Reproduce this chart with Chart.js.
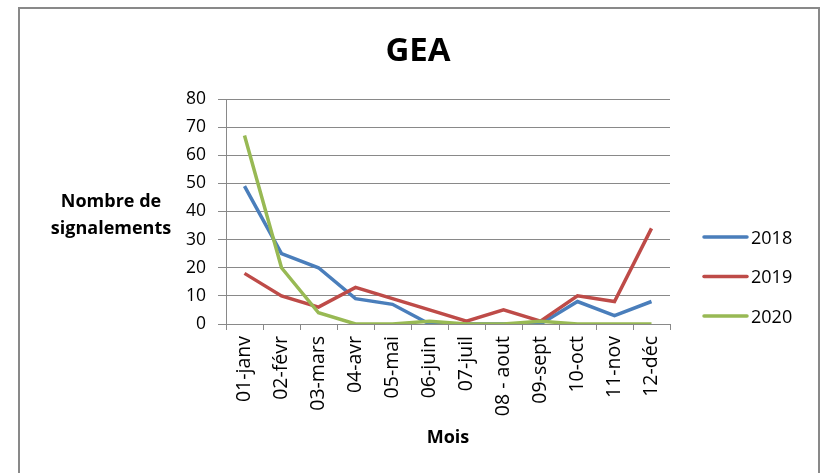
<!DOCTYPE html>
<html lang="fr">
<head>
  <meta charset="UTF-8">
  <title>GEA</title>
  <script src="https://cdn.jsdelivr.net/npm/chart.js"></script>
  <style>
    html, body { margin: 0; padding: 0; background: #fff; overflow: hidden; }
    .frame { position: absolute; left: 18px; top: 7px; width: 798px; height: 520px;
             border: 2px solid #898989; border-bottom: none; }
    .chart-container { position: absolute; left: 0; top: 0; width: 821px; height: 473px; }
  </style>
</head>
<body>
<div class="frame"></div>
<div class="chart-container"><canvas id="chart" width="821" height="473"></canvas></div>
<script>
  const chartTitle = 'GEA';
  const yTitle = ['Nombre de', 'signalements'];
  const xTitle = 'Mois';
  const months = ['01-janv', '02-févr', '03-mars', '04-avr', '05-mai', '06-juin',
                  '07-juil', '08 - aout', '09-sept', '10-oct', '11-nov', '12-déc'];
  const years = ['2018', '2019', '2020'];
  const values2018 = [49, 25, 20, 9, 7, 0, 0, 0, 0, 8, 3, 8];
  const values2019 = [18, 10, 6, 13, 9, 5, 1, 5, 1, 10, 8, 34];
  const values2020 = [67, 20, 4, 0, 0, 1, 0, 0, 1, 0, 0, 0];
  const colors = ['#4A7EBB', '#BE4B48', '#98B954'];

  const font = '"Open Sans", "Noto Sans", sans-serif';

  // title, horizontal y title and legend, drawn by hand like Excel does
  const decor = {
    id: 'decor',
    afterDraw(chart) {
      const ctx = chart.ctx;
      ctx.save();
      ctx.fillStyle = '#000';
      ctx.textBaseline = 'alphabetic';
      ctx.textAlign = 'center';
      ctx.font = 'bold 33px ' + font;
      ctx.fillText(chartTitle, 418, 61);
      ctx.font = 'bold 18px ' + font;
      yTitle.forEach((t, i) => ctx.fillText(t, 111, 207 + i * 27));

      ctx.textAlign = 'left';
      ctx.font = '18px ' + font;
      chart.data.datasets.forEach((ds, i) => {
        const y = 237 + i * 39.5;
        ctx.strokeStyle = ds.borderColor;
        ctx.lineWidth = 3.5;
        ctx.lineCap = 'round';
        ctx.beginPath();
        ctx.moveTo(704, y);
        ctx.lineTo(747, y);
        ctx.stroke();
        ctx.fillText(ds.label, 751, y + 6.5);
      });
      ctx.restore();
    }
  };

  const series = [values2018, values2019, values2020];

  new Chart(document.getElementById('chart'), {
    type: 'line',
    data: {
      labels: months,
      datasets: series.map((vals, i) => ({
        label: years[i],
        data: vals,
        borderColor: colors[i],
        backgroundColor: colors[i],
        borderWidth: 3.5,
        pointRadius: 0,
        tension: 0,
        order: series.length - i
      }))
    },
    options: {
      responsive: false,
      animation: false,
      layout: { padding: { left: 0, right: 151, top: 99, bottom: 0 } },
      plugins: {
        legend: { display: false },
        tooltip: { enabled: false },
        title: { display: false }
      },
      scales: {
        x: {
          offset: true,
          afterFit: (s) => { s.height = 149; },
          grid: { offset: true, drawOnChartArea: false, drawTicks: true, tickLength: 6, color: '#898989' },
          border: { display: true, color: '#898989', width: 1 },
          ticks: {
            autoSkip: false, minRotation: 90, maxRotation: 90, padding: 6,
            color: '#000', font: { family: font, size: 19.5 }
          },
          title: {
            display: true, text: xTitle, color: '#000',
            font: { family: font, size: 18, weight: 'bold' },
            padding: { top: 0, bottom: 24 }
          }
        },
        y: {
          min: 0, max: 80,
          afterFit: (s) => { s.width = 226; },
          grid: { color: '#898989', tickLength: 8 },
          border: { display: true, color: '#898989', width: 1 },
          ticks: { stepSize: 10, padding: 12, color: '#000', font: { family: font, size: 17.5 } }
        }
      }
    },
    plugins: [decor]
  });
</script>
</body>
</html>
